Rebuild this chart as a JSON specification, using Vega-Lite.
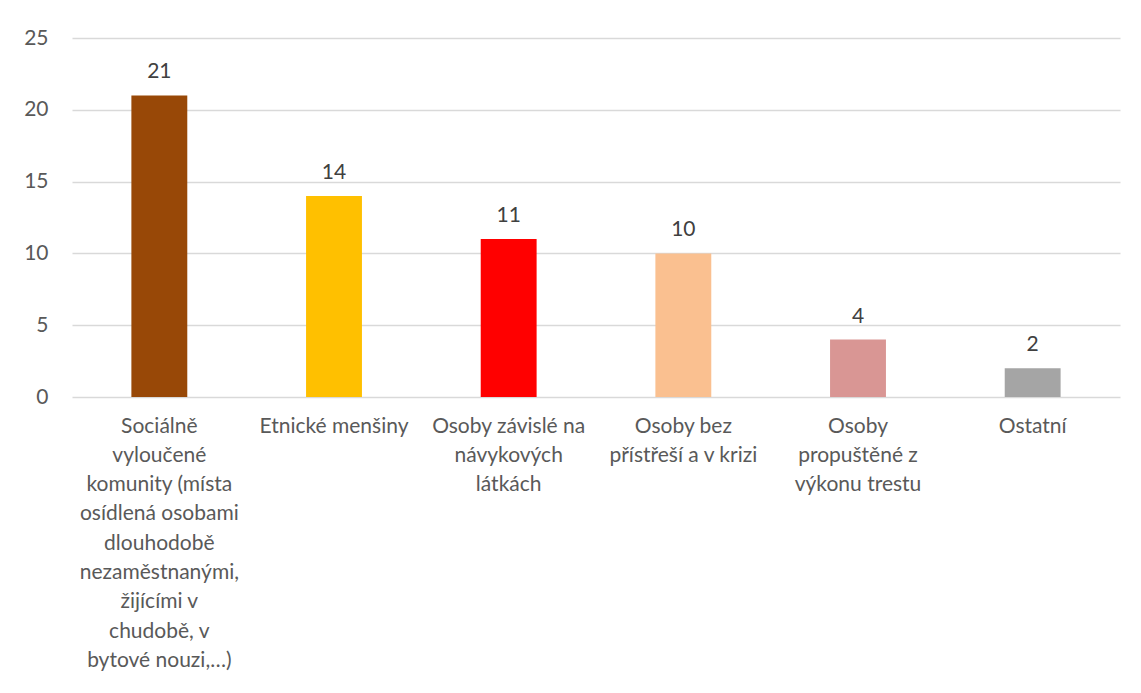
{
  "$schema": "https://vega.github.io/schema/vega-lite/v6.json",
  "autosize": "none",
  "width": 1048,
  "height": 359,
  "padding": {"left": 72, "top": 38, "right": 21, "bottom": 296},
  "background": "white",
  "config": {"view": {"stroke": null}, "font": "Lato"},
  "data": {"values": [
    {"kategorie": "Sociálně|vyloučené|komunity (místa|osídlená osobami|dlouhodobě|nezaměstnanými,|žijícími v|chudobě, v|bytové nouzi,…)", "pocet": 21, "barva": "#984807"},
    {"kategorie": "Etnické menšiny", "pocet": 14, "barva": "#FFC000"},
    {"kategorie": "Osoby závislé na|návykových|látkách", "pocet": 11, "barva": "#FF0000"},
    {"kategorie": "Osoby bez|přístřeší a v krizi", "pocet": 10, "barva": "#FAC090"},
    {"kategorie": "Osoby|propuštěné z|výkonu trestu", "pocet": 4, "barva": "#D99694"},
    {"kategorie": "Ostatní", "pocet": 2, "barva": "#A5A5A5"}
  ]},
  "encoding": {
    "x": {
      "field": "kategorie", "type": "nominal", "sort": null,
      "scale": {"paddingInner": 0.68, "paddingOuter": 0.34},
      "axis": {
        "title": null, "domain": false, "ticks": false, "labelAngle": 0,
        "labelExpr": "split(datum.label, '|')",
        "labelFontSize": 21, "labelColor": "#595959", "labelLineHeight": 29.3,
        "labelPadding": 18, "labelBaseline": "top", "labelLimit": 0
      }
    },
    "y": {
      "field": "pocet", "type": "quantitative",
      "scale": {"domain": [0, 25]},
      "axis": {
        "title": null, "domain": false, "ticks": false, "values": [0, 5, 10, 15, 20, 25],
        "labelFontSize": 21, "labelColor": "#595959", "labelPadding": 24,
        "gridColor": "#d9d9d9", "gridWidth": 1.3
      }
    }
  },
  "layer": [
    {"mark": {"type": "bar"}, "encoding": {"color": {"field": "barva", "type": "nominal", "scale": null, "legend": null}}},
    {"mark": {"type": "text", "baseline": "alphabetic", "dy": -17, "fontSize": 21, "color": "#404040"},
     "encoding": {"text": {"field": "pocet", "type": "quantitative"}}}
  ]
}
